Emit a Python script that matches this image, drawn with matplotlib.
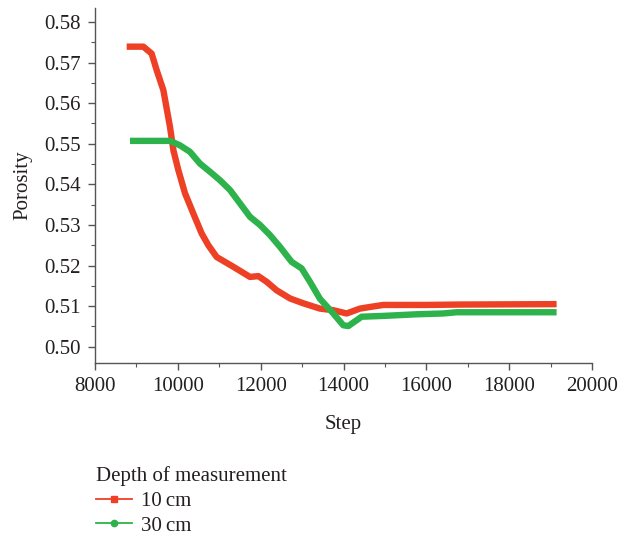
import matplotlib.pyplot as plt
from matplotlib.lines import Line2D
from matplotlib.ticker import MultipleLocator

plt.rcParams['font.family'] = ['Liberation Serif', 'DejaVu Serif']

# Porosity vs step
step_10 = [8764, 9167, 9367, 9489, 9650, 9811, 9892, 10012, 10173, 10374, 10575, 10736,
           10937, 11339, 11742, 11943, 12145, 12386, 12708, 13030, 13432, 13753, 14075,
           14397, 14639, 14960, 16000, 16812, 19145]
por_10 = [0.5739, 0.5739, 0.5722, 0.5681, 0.5632, 0.5541, 0.5484, 0.5435, 0.5378, 0.5328,
          0.5279, 0.5250, 0.5221, 0.5197, 0.5172, 0.5174, 0.5160, 0.5139, 0.5119, 0.5107,
          0.5094, 0.5090, 0.5082, 0.5094, 0.5098, 0.5103, 0.5103, 0.5104, 0.5105]

step_30 = [8845, 9811, 10052, 10293, 10535, 10776, 11018, 11259, 11501, 11742, 11983, 12225,
           12466, 12748, 12989, 13190, 13432, 13753, 13994, 14115, 14437, 14960, 15765,
           16409, 16731, 19145]
por_30 = [0.5507, 0.5507, 0.5496, 0.5480, 0.5451, 0.5431, 0.5410, 0.5386, 0.5353, 0.5320,
          0.5300, 0.5275, 0.5246, 0.5209, 0.5193, 0.5160, 0.5118, 0.5082, 0.5053, 0.5051,
          0.5074, 0.5076, 0.5080, 0.5082, 0.5085, 0.5085]

red = '#EE4024'
green = '#2EB24B'
text_col = '#231F20'

fig = plt.figure(figsize=(6.19, 5.39), dpi=100)
ax = fig.add_axes([0.1535, 0.3265, 0.8029, 0.6585])

ax.plot(step_10, por_10, color=red, lw=4.6, solid_capstyle='butt')
ax.plot(step_30, por_30, color=green, lw=4.6, solid_capstyle='butt')

ax.set_xlim(8000, 20000)
ax.set_ylim(0.496, 0.5834)
ax.xaxis.set_major_locator(MultipleLocator(2000))
ax.xaxis.set_minor_locator(MultipleLocator(1000))
ax.yaxis.set_major_locator(MultipleLocator(0.01))
ax.yaxis.set_minor_locator(MultipleLocator(0.005))
ax.yaxis.set_major_formatter(plt.FormatStrFormatter('%.2f'))

for s in ['top', 'right']:
    ax.spines[s].set_visible(False)
for s in ['left', 'bottom']:
    ax.spines[s].set_color('#555555')
    ax.spines[s].set_linewidth(1.0)
ax.tick_params(which='major', direction='out', length=5, width=1.0, color='#555555',
               labelsize=15, labelcolor=text_col, pad=5)
ax.tick_params(which='minor', direction='out', length=3, width=0.8, color='#555555')

ax.set_xlabel('Step', fontsize=15, color=text_col, labelpad=14)
ax.set_ylabel('Porosity', fontsize=15, color=text_col, labelpad=9)

# legend below the axes
handles = [Line2D([], [], color=red, lw=1.3, marker='s', markersize=4.5),
           Line2D([], [], color=green, lw=1.3, marker='o', markersize=4.5)]
leg = fig.legend(handles, ['10\u2009cm', '30\u2009cm'], title='Depth of measurement',
                 loc='upper left', bbox_to_anchor=(0.125, 0.17), frameon=False,
                 fontsize=15, title_fontsize=15, handlelength=1.7, handletextpad=0.45,
                 labelspacing=0.25, alignment='left', labelcolor=text_col)
leg.get_title().set_color(text_col)

fig.savefig('out.png', dpi=100)
